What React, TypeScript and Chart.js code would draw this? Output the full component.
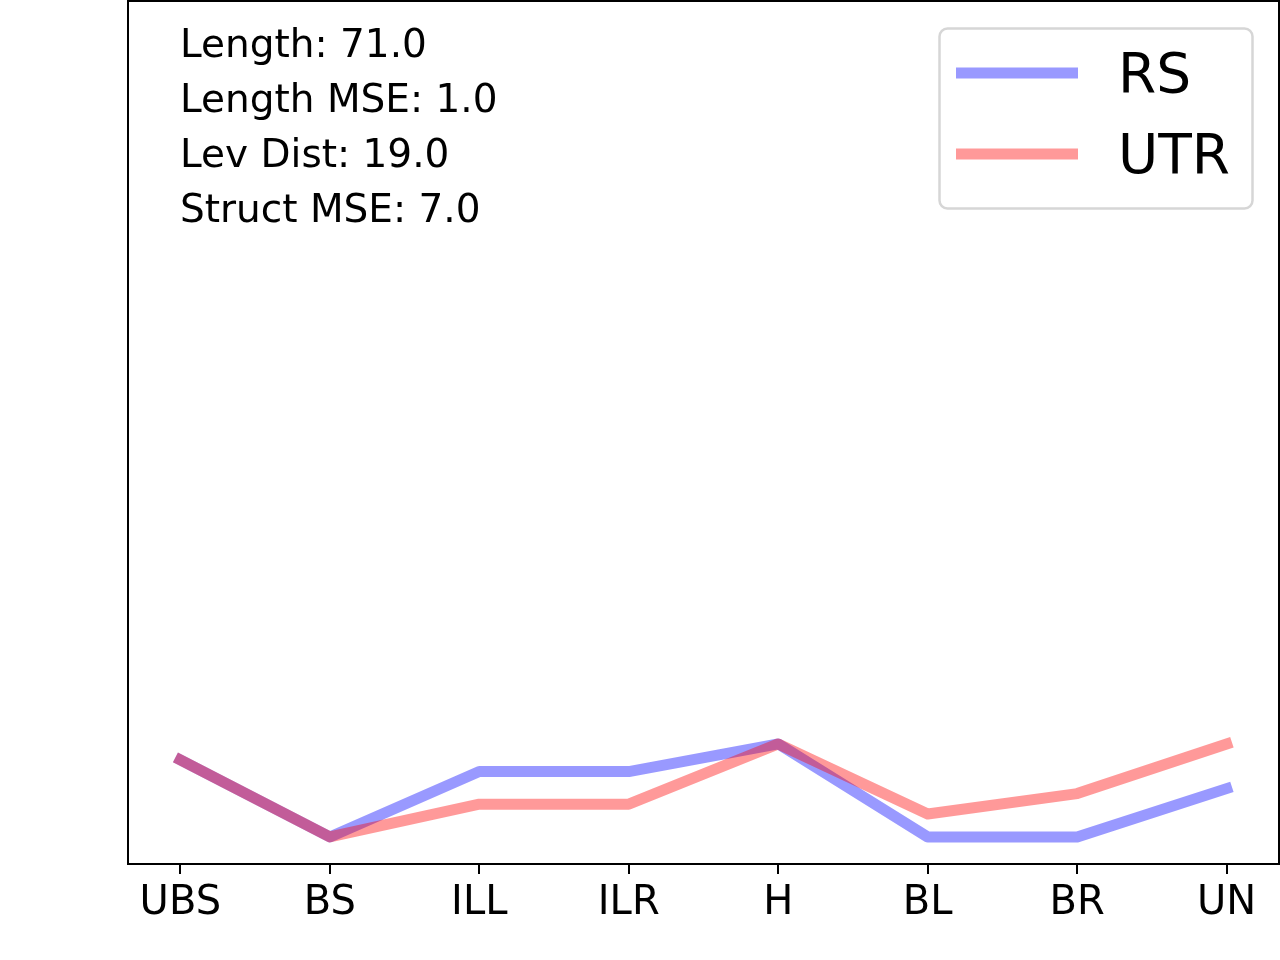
import React, { useEffect, useRef } from 'react';
import { Chart, registerables } from 'chart.js';

Chart.register(...registerables);

// chart data
const categories = ['UBS', 'BS', 'ILL', 'ILR', 'H', 'BL', 'BR', 'UN'];
const rsValues = [12.05, 3.13, 10.7, 10.7, 13.9, 3.13, 3.13, 8.73];
const utrValues = [12.05, 3.13, 6.92, 6.92, 13.9, 5.79, 8.15, 13.9];
const statLines = ['Length: 71.0', 'Length MSE: 1.0', 'Lev Dist: 19.0', 'Struct MSE: 7.0'];

const FONT = '"DejaVu Sans", sans-serif';

// frame, stats text and legend drawn on top of the plot
const overlayPlugin = {
  id: 'overlay',
  afterDraw(chart: any) {
    const { ctx, chartArea: a } = chart;
    ctx.save();
    ctx.strokeStyle = '#000';
    ctx.lineWidth = 2;
    ctx.strokeRect(a.left, a.top + 1, a.right - a.left, a.bottom - a.top - 1);

    ctx.fillStyle = '#000';
    ctx.font = `39px ${FONT}`;
    ctx.textBaseline = 'alphabetic';
    ctx.textAlign = 'left';
    statLines.forEach((t, i) => ctx.fillText(t, 180, 57 + i * 55));

    // legend box
    ctx.beginPath();
    ctx.roundRect(939.5, 28.5, 313, 180, 8);
    ctx.fillStyle = 'rgba(255,255,255,0.8)';
    ctx.fill();
    ctx.strokeStyle = '#d6d6d6';
    ctx.lineWidth = 2.5;
    ctx.stroke();

    ctx.font = `55px ${FONT}`;
    chart.data.datasets.forEach((ds: any, i: number) => {
      const y = 73 + i * 81;
      ctx.beginPath();
      ctx.moveTo(956, y);
      ctx.lineTo(1078, y);
      ctx.strokeStyle = ds.borderColor;
      ctx.lineWidth = 11;
      ctx.lineCap = 'butt';
      ctx.stroke();
      ctx.fillStyle = '#000';
      ctx.fillText(ds.label, 1118, y + 19);
    });
    ctx.restore();
  },
};

const App: React.FC = () => {
  const canvasRef = useRef<HTMLCanvasElement | null>(null);

  useEffect(() => {
    document.body.style.margin = '0';
    if (!canvasRef.current) return;
    const chart = new Chart(canvasRef.current, {
      type: 'line',
      data: {
        datasets: [
          {
            label: 'RS',
            data: rsValues.map((v, i) => ({ x: i, y: v })),
            borderColor: 'rgba(0,0,255,0.4)',
            borderWidth: 11,
            borderCapStyle: 'square',
            borderJoinStyle: 'round',
            pointRadius: 0,
            tension: 0,
            order: 1,
          },
          {
            label: 'UTR',
            data: utrValues.map((v, i) => ({ x: i, y: v })),
            borderColor: 'rgba(255,0,0,0.4)',
            borderWidth: 11,
            borderCapStyle: 'square',
            borderJoinStyle: 'round',
            pointRadius: 0,
            tension: 0,
            order: 0,
          },
        ],
      },
      options: {
        animation: false,
        responsive: false,
        devicePixelRatio: 1,
        layout: { padding: { left: 128, right: 1, top: 0, bottom: 26 } },
        plugins: { legend: { display: false }, tooltip: { enabled: false } },
        scales: {
          x: {
            type: 'linear',
            min: -0.35,
            max: categories.length - 1 + 0.35,
            afterBuildTicks: (axis: any) => {
              axis.ticks = categories.map((_, i) => ({ value: i }));
            },
            ticks: {
              autoSkip: false,
              maxRotation: 0,
              padding: 6,
              color: '#000',
              font: { family: FONT, size: 40 },
              callback: (v: any) => categories[v as number] ?? '',
            },
            grid: {
              drawOnChartArea: false,
              drawTicks: true,
              tickLength: 10,
              color: '#000',
              lineWidth: 2,
            },
            border: { display: true, color: '#000', width: 2 },
          },
          y: { display: false, min: 0, max: 100 },
        },
      },
      plugins: [overlayPlugin],
    });
    return () => chart.destroy();
  }, []);

  return (
    <div style={{ width: 1280, height: 960, background: '#fff' }}>
      <canvas ref={canvasRef} width={1280} height={960} />
    </div>
  );
};

export default App;
